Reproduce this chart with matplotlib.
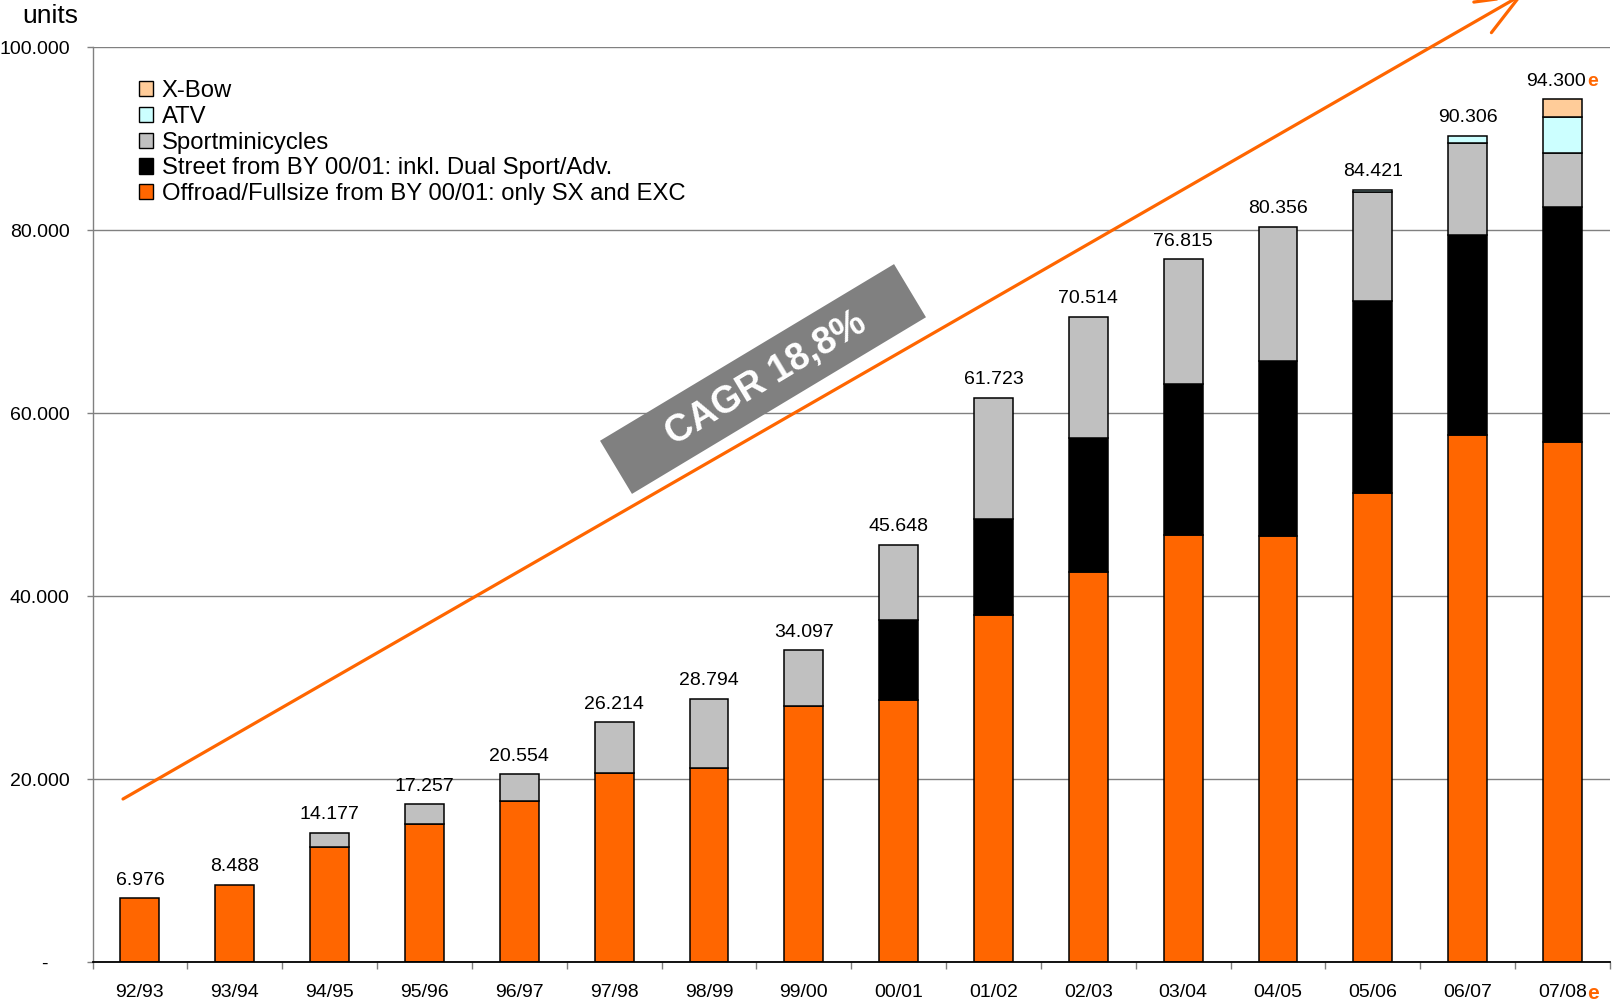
import matplotlib
matplotlib.use("Agg")
import matplotlib.pyplot as plt
from matplotlib.patches import Patch, Rectangle, FancyArrowPatch
from matplotlib.ticker import FuncFormatter, FixedLocator
import numpy as np

plt.rcParams['font.family'] = ['Liberation Sans', 'DejaVu Sans']

# Business years
years = ["92/93", "93/94", "94/95", "95/96", "96/97", "97/98", "98/99", "99/00",
         "00/01", "01/02", "02/03", "03/04", "04/05", "05/06", "06/07", "07/08"]

# Units sold per segment
offroad = [6976, 8488, 12600, 15110, 17660, 20660, 21270, 28040,
           28650, 37960, 42620, 46700, 46590, 51260, 57630, 56830]
street = [0, 0, 0, 0, 0, 0, 0, 0,
          8770, 10490, 14710, 16470, 19130, 21010, 21860, 25680]
minicycles = [0, 0, 1577, 2147, 2894, 5554, 7524, 6057,
              8228, 13273, 13184, 13645, 14636, 11950, 10080, 5900]
atv = [0, 0, 0, 0, 0, 0, 0, 0,
       0, 0, 0, 0, 0, 201, 736, 4000]
xbow = [0, 0, 0, 0, 0, 0, 0, 0,
        0, 0, 0, 0, 0, 0, 0, 1890]

cagr_text = "CAGR 18,8%"
estimate_flag = "e"
ORANGE = "#FF6600"

series = [
    ("Offroad/Fullsize from BY 00/01: only SX and EXC", offroad, ORANGE),
    ("Street from BY 00/01: inkl. Dual Sport/Adv.", street, "#000000"),
    ("Sportminicycles", minicycles, "#C0C0C0"),
    ("ATV", atv, "#CCFFFF"),
    ("X-Bow", xbow, "#FFCC99"),
]

W, H = 1612, 1001
fig = plt.figure(figsize=(W / 100, H / 100), dpi=100)
ax = fig.add_axes([92.5 / W, 1 - 962.3 / H, (1610 - 92.5) / W, (962.3 - 47.3) / H])

x = np.arange(len(years))
bottom = np.zeros(len(years))
for name, vals, col in series:
    v = np.array(vals, dtype=float)
    mask = v > 0
    ax.bar(x[mask], v[mask], width=0.41, bottom=bottom[mask], color=col,
           edgecolor="black", linewidth=1.1, zorder=3)
    bottom += v

totals = bottom
last = len(years) - 1
for i, t in enumerate(totals):
    lbl = f"{int(round(t)):,}".replace(",", ".")
    if i == last:
        # estimated year: number followed by an orange "e"
        ax.annotate(lbl, xy=(i, t), xytext=(17, 7), textcoords="offset points",
                    ha="right", va="bottom", fontsize=14, zorder=5)
        ax.annotate(estimate_flag, xy=(i, t), xytext=(18, 7),
                    textcoords="offset points", ha="left", va="bottom",
                    fontsize=14, fontweight="bold", color=ORANGE, zorder=5)
    else:
        ax.annotate(lbl, xy=(i, t), xytext=(0, 7), textcoords="offset points",
                    ha="center", va="bottom", fontsize=14, zorder=5)

ax.set_xlim(-0.5, len(years) - 0.5)
ax.set_ylim(0, 100000)

# y axis
ax.set_yticks(np.arange(0, 100001, 20000))
ax.yaxis.set_major_formatter(FuncFormatter(
    lambda v, p: "-    " if v == 0 else f"{int(v):,}".replace(",", ".")))
ax.tick_params(axis="y", length=4.3, width=1, color="#808080", pad=12, labelsize=14)
ax.grid(axis="y", color="#808080", linewidth=1, zorder=1)
ax.set_axisbelow(True)

# x axis: labels at category centres, tick marks at boundaries
ax.set_xticks(x)
ax.set_xticklabels(years, fontsize=14)
ax.tick_params(axis="x", which="major", length=0, pad=15.5)
ax.xaxis.set_minor_locator(FixedLocator(np.arange(-0.5, len(years), 1.0)))
ax.tick_params(axis="x", which="minor", length=5, width=1, color="#808080")
ax.annotate(estimate_flag, xy=(last, 0), xytext=(18, -15.5),
            textcoords="offset points", ha="left", va="top", fontsize=15,
            fontweight="bold", color=ORANGE, annotation_clip=False)

for s in ["top", "right"]:
    ax.spines[s].set_visible(False)
ax.spines["left"].set_color("#808080")
ax.spines["left"].set_linewidth(1)
ax.spines["bottom"].set_color("black")
ax.spines["bottom"].set_linewidth(1.3)
ax.spines["bottom"].set_zorder(4)

fig.text(22 / W, 1 - 16 / H, "units", fontsize=19, ha="left", va="center")

# legend (top-most segment first)
handles = [Patch(facecolor=c, edgecolor="black", linewidth=1, label=n)
           for n, v, c in reversed(series)]
leg = fig.legend(handles=handles, loc="upper left",
                 bbox_to_anchor=(139 / W, 1 - 80 / H), frameon=False,
                 fontsize=17.2, handlelength=0.6, handleheight=0.6,
                 handletextpad=0.35, labelspacing=0.16, borderpad=0,
                 borderaxespad=0)

# growth arrow
arrow = FancyArrowPatch((123 / W, 1 - 799 / H), (1523.6 / W, 1 + 6.2 / H),
                        transform=fig.transFigure,
                        arrowstyle="->,head_length=31,head_width=12.7",
                        mutation_scale=1, color=ORANGE, linewidth=2.3,
                        shrinkA=0, shrinkB=0, zorder=6)
fig.add_artist(arrow)

# CAGR box
cx, cy = 763 / 100, (H - 379) / 100
bw, bh = 3.43, 0.62
box = Rectangle((cx - bw / 2, cy - bh / 2), bw, bh, angle=31,
                rotation_point="center", facecolor="#808080", edgecolor="none",
                transform=fig.dpi_scale_trans, zorder=7)
fig.add_artist(box)
fig.text(cx + 0.03, cy, cagr_text, transform=fig.dpi_scale_trans, rotation=31,
         rotation_mode="anchor", ha="center", va="center", fontsize=27,
         fontweight="bold", color="white", zorder=8)

fig.savefig("out.png", dpi=100)
